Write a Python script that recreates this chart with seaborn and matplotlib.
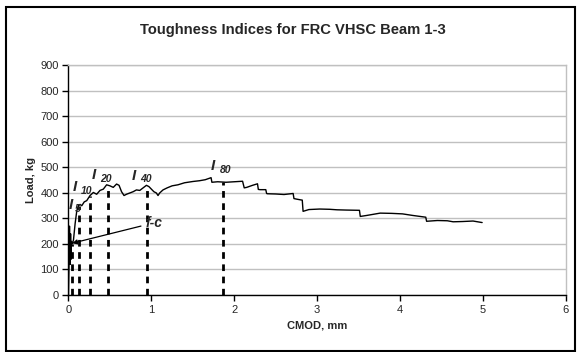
import matplotlib
matplotlib.use("Agg")
import matplotlib.pyplot as plt
import seaborn as sns
import pandas as pd
from matplotlib.patches import Rectangle

# ---- data ----
cmod = [0, 0.008, 0.012, 0.016, 0.02, 0.025, 0.03, 0.035, 0.045, 0.06, 0.08, 0.10,
        0.12, 0.14, 0.16, 0.19, 0.22, 0.26, 0.30, 0.34, 0.38, 0.42, 0.46, 0.50,
        0.54, 0.58, 0.61, 0.64, 0.67, 0.70, 0.74, 0.78, 0.82, 0.86, 0.90, 0.94,
        0.97, 1.00, 1.03, 1.06, 1.08, 1.10, 1.14, 1.19, 1.25, 1.32, 1.40, 1.50,
        1.58, 1.65, 1.72, 1.73, 1.80, 1.90, 2.00, 2.10, 2.12, 2.15, 2.22, 2.28,
        2.29, 2.31, 2.38, 2.39, 2.40, 2.50, 2.60, 2.71, 2.72, 2.75, 2.80, 2.82,
        2.83, 2.90, 3.03, 3.15, 3.24, 3.35, 3.51, 3.52, 3.60, 3.76, 3.90, 4.03,
        4.15, 4.31, 4.32, 4.45, 4.57, 4.64, 4.75, 4.88, 4.99]
load = [0, 150, 270, 180, 120, 240, 140, 210, 200, 215, 280, 330,
        350, 355, 350, 365, 370, 390, 402, 395, 410, 415, 432, 428,
        422, 435, 430, 405, 390, 395, 400, 405, 412, 410, 420, 430,
        425, 415, 405, 400, 390, 400, 412, 420, 428, 432, 440, 445,
        448, 452, 460, 442, 444, 442, 444, 446, 420, 422, 430, 436,
        414, 413, 413, 398, 397, 396, 394, 398, 378, 376, 373, 372,
        328, 335, 337, 336, 334, 333, 332, 308, 312, 321, 320, 318,
        312, 305, 289, 292, 291, 287, 288, 290, 284]

index_x = [0.045, 0.13, 0.26, 0.48, 0.95, 1.86]
index_top = [200, 350, 390, 430, 425, 442]

label_subs = ["5", "10", "20", "40", "80"]
label_I_pos = [(0.0, 325), (0.05, 396), (0.28, 444), (0.76, 440), (1.72, 478)]
label_sub_pos = [(0.08, 318), (0.15, 390), (0.38, 434), (0.86, 434), (1.83, 472)]

title = "Toughness Indices for FRC VHSC Beam 1-3"
xlabel = "CMOD, mm"
ylabel = "Load, kg"

# ---- plot ----
sns.set_theme(style="white")
plt.rcParams['font.family'] = ['Liberation Sans', 'DejaVu Sans']

fig = plt.figure(figsize=(5.77, 3.52), dpi=100)
ax = fig.add_axes([0.1187, 0.162, 0.862, 0.652])

df = pd.DataFrame({"CMOD": cmod, "Load": load})
sns.lineplot(data=df, x="CMOD", y="Load", ax=ax, color="black", linewidth=1.0,
             sort=False, estimator=None)

ax.vlines(index_x, 0, index_top, colors="black", linewidth=2.0,
          linestyles=(0, (2.4, 2.0)))

for (ix, iy), (sx, sy), s in zip(label_I_pos, label_sub_pos, label_subs):
    ax.text(ix, iy, "I", fontsize=11, fontweight="bold", style="italic",
            ha="left", va="bottom")
    ax.text(sx, sy, s, fontsize=7.5, style="italic", fontweight="semibold",
            ha="left", va="bottom")

ax.annotate("f-c", xy=(0.045, 203), xytext=(0.93, 283),
            fontsize=10, fontweight="bold", style="italic", va="center", ha="left",
            arrowprops=dict(arrowstyle="-|>", color="black", lw=0.9,
                            mutation_scale=7, shrinkA=1, shrinkB=0))

ax.set_xlim(0, 6)
ax.set_ylim(0, 900)
ax.set_xticks(range(0, 7))
ax.set_yticks(range(0, 901, 100))
ax.yaxis.grid(True, color="#c0c0c0", linewidth=1.0)
ax.set_axisbelow(True)
ax.tick_params(axis="both", which="both", direction="out", length=4, width=1,
               labelsize=8, color="black", pad=3, left=True, bottom=True)
for side in ["left", "bottom"]:
    ax.spines[side].set_color("black")
    ax.spines[side].set_linewidth(1.0)
for side in ["top", "right"]:
    ax.spines[side].set_color("#c0c0c0")
    ax.spines[side].set_linewidth(1.0)

ax.set_xlabel(xlabel, fontsize=8, fontweight="bold", labelpad=4)
ax.set_ylabel(ylabel, fontsize=8, fontweight="bold", labelpad=3)

fig.text(0.507, 0.915, title, fontsize=10.6, fontweight="bold",
         ha="center", va="center")

fig.patches.append(Rectangle((0.0104, 0.003), 0.987, 0.976, transform=fig.transFigure,
                             fill=False, edgecolor="black", linewidth=1.5))

fig.savefig("out.png", dpi=100)
